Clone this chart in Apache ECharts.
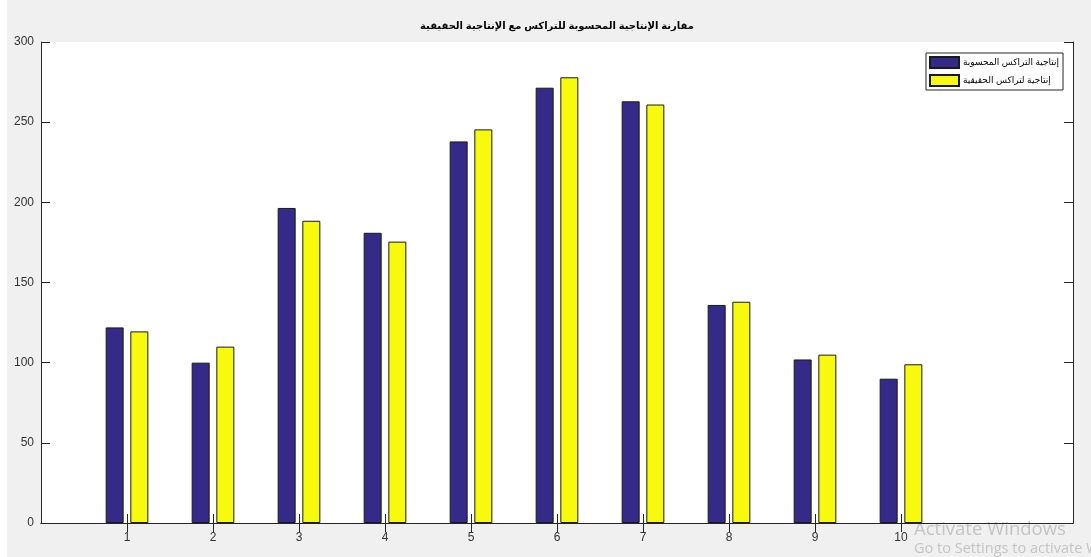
<!DOCTYPE html>
<html>
<head>
<meta charset="utf-8">
<title>مقارنة الإنتاجية</title>
<script src="https://cdn.jsdelivr.net/npm/echarts@6/dist/echarts.min.js"></script>
<style>
  html, body { margin: 0; padding: 0; background: #f0f0f0; }
  #chart { width: 1091px; height: 557px; }
</style>
</head>
<body>
<div id="chart"></div>
<script>
// Group labels on the x axis
const categories = ['1', '2', '3', '4', '5', '6', '7', '8', '9', '10'];
// Computed tracks productivity
const computed = [122, 100, 196.5, 181, 238, 271.5, 263, 136, 102, 90];
// Actual tracks productivity
const actual = [119.5, 110, 188.5, 175.5, 245.5, 278, 261, 138, 105, 99];
// Value axis ticks
const yTicks = [0, 50, 100, 150, 200, 250, 300];

const seriesNames = ['إنتاجية التراكس المحسوبة', 'إنتاجية لتراكس الحقيقية'];
const titleText = 'مقارنة الإنتاجية المحسوبة للتراكس مع الإنتاجية الحقيقية';

// The x range runs from 0 to 12 with groups sitting on 1..10
const axisData = [''].concat(categories, ['', '']);
const pad = arr => [null].concat(arr, [null, null]);
const isGroup = idx => idx >= 1 && idx <= categories.length;

const axisColor = '#262626';
const font = 'Arial, "Liberation Sans", "DejaVu Sans", sans-serif';

const chart = echarts.init(document.getElementById('chart'), null, { renderer: 'canvas' });

const xCommon = {
  type: 'category',
  data: axisData,
  boundaryGap: false,
  axisLine: { show: true, lineStyle: { color: axisColor, width: 1 } },
  axisTick: { show: true, inside: true, length: 9, interval: isGroup, lineStyle: { color: axisColor } },
  splitLine: { show: false }
};
const yCommon = {
  type: 'value',
  min: yTicks[0],
  max: yTicks[yTicks.length - 1],
  interval: yTicks[1] - yTicks[0],
  axisLine: { show: true, lineStyle: { color: axisColor, width: 1 } },
  axisTick: { show: true, inside: true, length: 9, lineStyle: { color: axisColor } },
  splitLine: { show: false }
};

chart.setOption({
  backgroundColor: '#f0f0f0',
  animation: false,
  title: {
    text: titleText,
    left: 557,
    top: 21,
    textAlign: 'center',
    padding: 0,
    textStyle: { fontFamily: font, fontSize: 10, fontWeight: 'bold', color: '#000' }
  },
  grid: {
    left: 41, right: 18, top: 42, bottom: 34,
    show: true, backgroundColor: '#ffffff', borderWidth: 0
  },
  legend: {
    orient: 'vertical',
    left: 926, top: 53,
    padding: [3, 4, 3, 3],
    itemWidth: 29, itemHeight: 11, itemGap: 5,
    icon: 'rect',
    backgroundColor: '#ffffff',
    borderColor: axisColor,
    borderWidth: 1,
    borderRadius: 0,
    textStyle: { fontFamily: font, fontSize: 9, color: '#000', padding: [0, 0, 0, -1] },
    data: seriesNames
  },
  xAxis: [
    Object.assign({}, xCommon, {
      position: 'bottom',
      axisLabel: {
        show: true, interval: isGroup, margin: 9,
        fontFamily: font, fontSize: 12, color: '#333'
      }
    }),
    Object.assign({}, xCommon, { position: 'top', axisLabel: { show: false } })
  ],
  yAxis: [
    Object.assign({}, yCommon, {
      position: 'left',
      axisLabel: { show: true, margin: 7, fontFamily: font, fontSize: 12, color: '#333' }
    }),
    Object.assign({}, yCommon, { position: 'right', axisLabel: { show: false } })
  ],
  series: [
    {
      name: seriesNames[0],
      type: 'bar',
      xAxisIndex: 0, yAxisIndex: 0,
      data: pad(computed),
      barWidth: 18,
      barGap: '37%',
      itemStyle: { color: '#352a87', borderColor: '#1a1a1a', borderWidth: 1 }
    },
    {
      name: seriesNames[1],
      type: 'bar',
      xAxisIndex: 0, yAxisIndex: 0,
      data: pad(actual),
      barWidth: 18,
      barGap: '37%',
      itemStyle: { color: '#f8fa0d', borderColor: '#1a1a1a', borderWidth: 1 }
    }
  ],
  graphic: [
    { type: 'rect', left: 0, top: 0, shape: { width: 7, height: 557 }, style: { fill: '#ffffff' }, silent: true },
    {
      type: 'text', left: 914, top: 520, silent: true,
      style: { text: 'Activate Windows', fill: '#c4c4c4', font: '18.5px "Open Sans", "Noto Sans", sans-serif' }
    },
    {
      type: 'text', left: 914, top: 541, silent: true,
      style: { text: 'Go to Settings to activate Windows.', fill: '#c4c4c4', font: '14.5px "Open Sans", "Noto Sans", sans-serif' }
    }
  ]
});
</script>
</body>
</html>
